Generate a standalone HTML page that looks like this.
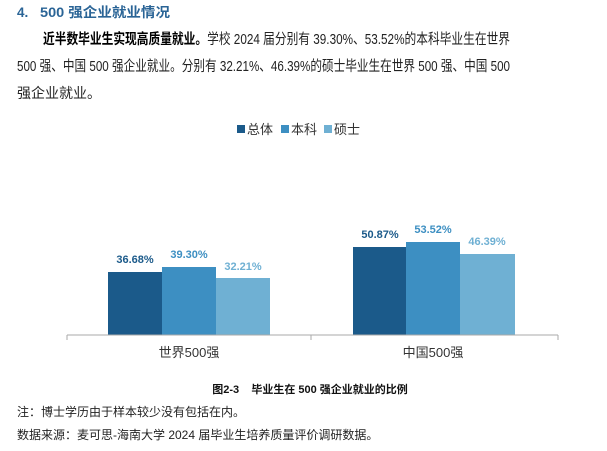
<!DOCTYPE html>
<html><head><meta charset="utf-8"><style>
body{margin:0;width:607px;height:451px;background:#fff;font-family:"Liberation Sans","Noto Sans CJK SC",sans-serif;position:relative;overflow:hidden}
</style></head><body>
<svg width="607" height="451" style="position:absolute;left:0;top:0" font-family="Liberation Sans,Noto Sans CJK SC,sans-serif">
<text x="17" y="17" font-size="13.5" font-weight="bold" fill="#2a6496">4.</text>
<text x="40" y="17" font-size="13.5" font-weight="bold" fill="#2a6496" textLength="130" lengthAdjust="spacingAndGlyphs">500 强企业就业情况</text>
<text x="43" y="44" font-size="14.5" fill="#222" textLength="467" lengthAdjust="spacingAndGlyphs"><tspan font-weight="bold" fill="#000">近半数毕业生实现高质量就业。</tspan>学校 2024 届分别有 39.30%、53.52%的本科毕业生在世界</text>
<text x="17" y="71" font-size="14.5" fill="#222" textLength="493" lengthAdjust="spacingAndGlyphs">500 强、中国 500 强企业就业。分别有 32.21%、46.39%的硕士毕业生在世界 500 强、中国 500</text>
<text x="17" y="98" font-size="14" fill="#222">强企业就业。</text>
<g font-size="13" fill="#333">
<rect x="237" y="125" width="8" height="8" fill="#1b5a8a"/><text x="247" y="134">总体</text>
<rect x="281" y="125" width="8" height="8" fill="#3d8fc2"/><text x="291" y="134">本科</text>
<rect x="324" y="125" width="8" height="8" fill="#6fb0d3"/><text x="334" y="134">硕士</text>
</g>
<rect x="108" y="272" width="54" height="63" fill="#1b5a8a"/>
<rect x="162" y="267" width="54" height="68" fill="#3d8fc2"/>
<rect x="216" y="278" width="54" height="57" fill="#6fb0d3"/>
<rect x="353" y="247" width="53" height="88" fill="#1b5a8a"/>
<rect x="406" y="242" width="54" height="93" fill="#3d8fc2"/>
<rect x="460" y="254" width="55" height="81" fill="#6fb0d3"/>
<path d="M67 335H558M67 335v5M311 335v5M558 335v5" stroke="#aaa" stroke-width="1"/>
<g font-size="11" font-weight="bold" text-anchor="middle">
<text x="135" y="263" fill="#1b5a8a">36.68%</text>
<text x="189" y="258" fill="#3d8fc2">39.30%</text>
<text x="243" y="270" fill="#6fb0d3">32.21%</text>
<text x="380" y="238" fill="#1b5a8a">50.87%</text>
<text x="433" y="233" fill="#3d8fc2">53.52%</text>
<text x="487" y="245" fill="#6fb0d3">46.39%</text>
</g>
<g font-size="13" fill="#333" text-anchor="middle">
<text x="189" y="357">世界500强</text>
<text x="433" y="357">中国500强</text>
</g>
<text x="310" y="393" font-size="11" font-weight="bold" text-anchor="middle" fill="#111">图2-3&#160;&#160;&#160;&#160;毕业生在 500 强企业就业的比例</text>
<text x="17" y="416" font-size="12" fill="#222">注：博士学历由于样本较少没有包括在内。</text>
<text x="17" y="439" font-size="12" fill="#222">数据来源：麦可思-海南大学 2024 届毕业生培养质量评价调研数据。</text>
</svg>
</body></html>
